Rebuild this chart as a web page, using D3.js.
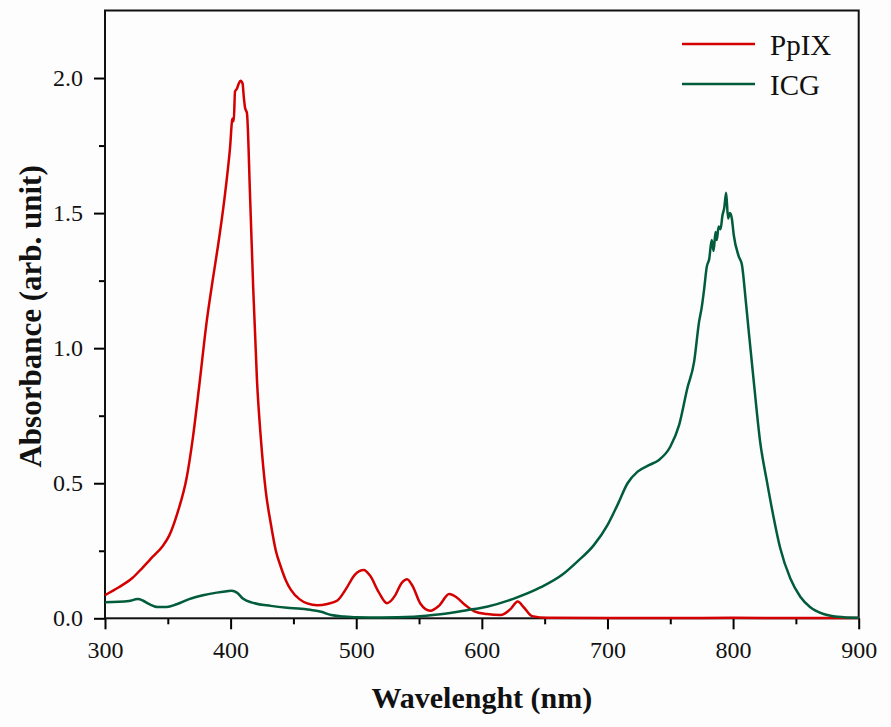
<!DOCTYPE html>
<html>
<head>
<meta charset="utf-8">
<script src="https://cdn.jsdelivr.net/npm/d3@7"></script>
<style>
  html, body { margin: 0; padding: 0; background: #fdfdfd; }
  svg { display: block; }
</style>
</head>
<body>
<script>
// PpIX absorbance
const ppixNm = [300, 311, 322, 330, 338, 346, 351, 358, 365, 370, 375, 381, 386, 390, 395, 399.5, 401.5, 402.5,
  403.5, 405, 406.5, 408, 409.5, 410.5, 411.5, 413, 415.5, 418, 421, 424, 428, 432, 436, 440, 444, 448, 455,
  461, 469, 477, 485, 492, 499, 506, 511, 518, 524.5, 531, 536, 540.5, 545, 551, 559, 566, 574, 580, 587,
  594, 604, 615, 623, 628.5, 633.5, 640, 652, 700, 750, 800, 850, 900];
const ppixAbs = [0.086, 0.115, 0.150, 0.188, 0.228, 0.268, 0.305, 0.395, 0.52, 0.67, 0.86, 1.10, 1.26, 1.38, 1.55, 1.74, 1.85, 1.84,
  1.95, 1.96, 1.98, 1.99, 1.98, 1.93, 1.89, 1.87, 1.56, 1.22, 0.88, 0.67, 0.47, 0.35, 0.25, 0.19, 0.14, 0.105, 0.07,
  0.055, 0.048, 0.053, 0.066, 0.11, 0.162, 0.179, 0.158, 0.096, 0.056, 0.085, 0.130, 0.145, 0.118, 0.055, 0.028, 0.047, 0.09, 0.077, 0.048,
  0.026, 0.016, 0.012, 0.035, 0.062, 0.04, 0.008, 0.002, 0.001, 0.001, 0.002, 0.001, 0.001];

// ICG absorbance
const icgNm = [300, 319, 326, 330, 335, 342, 349, 357, 367, 378, 389, 397, 401, 405, 410, 418, 432, 445, 456, 465,
  472, 480, 490, 500, 520, 546, 567, 588, 604, 625, 647, 665, 676, 689, 700, 708, 716, 724, 733, 741, 750,
  757, 763.5, 769, 773, 775, 777, 779, 781, 783, 784.5, 786, 787, 788.5, 790, 791.5, 793, 794.5, 796, 797.5,
  799, 800.5, 804.5, 807, 810, 812.5, 816.5, 821.5, 827, 832, 837.5, 845.5, 853.5, 861, 872, 883, 900];
const icgAbs = [0.059, 0.064, 0.071, 0.066, 0.053, 0.042, 0.042, 0.052, 0.071, 0.085, 0.095, 0.100, 0.102, 0.095, 0.072, 0.057, 0.046, 0.039, 0.035, 0.030,
  0.024, 0.012, 0.007, 0.004, 0.003, 0.006, 0.015, 0.030, 0.043, 0.072, 0.115, 0.165, 0.21, 0.27, 0.345, 0.42, 0.50, 0.543, 0.567, 0.586, 0.635,
  0.715, 0.85, 0.95, 1.10, 1.15, 1.22, 1.30, 1.33, 1.40, 1.36, 1.43, 1.40, 1.45, 1.44, 1.49, 1.52, 1.575, 1.48, 1.50,
  1.48, 1.42, 1.34, 1.31, 1.18, 1.06, 0.875, 0.655, 0.505, 0.38, 0.26, 0.148, 0.08, 0.043, 0.016, 0.006, 0.002];

const seriesNames = ["PpIX", "ICG"];
const seriesColors = ["#d40000", "#005c3a"];
const xTicks = [300, 400, 500, 600, 700, 800, 900];
const xMinor = [350, 450, 550, 650, 750, 850];
const yTicks = [0, 0.5, 1.0, 1.5, 2.0];
const yMinor = [0.25, 0.75, 1.25, 1.75];

const width = 891, height = 727;
const margin = {top: 10.5, right: 32.3, bottom: 108.7, left: 105};

const x = d3.scaleLinear().domain([300, 900]).range([margin.left, width - margin.right]);
const y = d3.scaleLinear().domain([0, 2.25]).range([height - margin.bottom, margin.top]);

const svg = d3.select("body").append("svg")
    .attr("width", width)
    .attr("height", height)
    .attr("viewBox", [0, 0, width, height]);

const font = "'Liberation Serif', 'Times New Roman', serif";

// minor ticks
svg.append("g")
    .attr("transform", `translate(0,${y(0)})`)
    .call(d3.axisBottom(x).tickValues(xMinor).tickSize(6).tickFormat(""))
    .call(g => g.select(".domain").remove())
    .call(g => g.selectAll("line").attr("stroke-width", 2));
svg.append("g")
    .attr("transform", `translate(${x(300)},0)`)
    .call(d3.axisLeft(y).tickValues(yMinor).tickSize(6).tickFormat(""))
    .call(g => g.select(".domain").remove())
    .call(g => g.selectAll("line").attr("stroke-width", 2));

// major axes
svg.append("g")
    .attr("transform", `translate(0,${y(0)})`)
    .call(d3.axisBottom(x).tickValues(xTicks).tickSize(11).tickPadding(12).tickSizeOuter(0))
    .call(g => g.select(".domain").remove())
    .call(g => g.selectAll("line").attr("stroke-width", 2))
    .call(g => g.selectAll("text").attr("font-family", font).attr("font-size", 24).attr("fill", "#111"));
svg.append("g")
    .attr("transform", `translate(${x(300)},0)`)
    .call(d3.axisLeft(y).tickValues(yTicks).tickSize(11).tickPadding(11).tickFormat(d3.format(".1f")).tickSizeOuter(0))
    .call(g => g.select(".domain").remove())
    .call(g => g.selectAll("line").attr("stroke-width", 2))
    .call(g => g.selectAll("text").attr("font-family", font).attr("font-size", 24).attr("fill", "#111"));

// frame
svg.append("rect")
    .attr("x", x(300))
    .attr("y", y(2.25))
    .attr("width", x(900) - x(300))
    .attr("height", y(0) - y(2.25))
    .attr("fill", "none")
    .attr("stroke", "#111")
    .attr("stroke-width", 2);

const line = d3.line()
    .x(d => x(d[0]))
    .y(d => y(d[1]))
    .curve(d3.curveMonotoneX);

const series = [
  d3.zip(ppixNm, ppixAbs),
  d3.zip(icgNm, icgAbs)
];

svg.append("g")
  .selectAll("path")
  .data(series)
  .join("path")
    .attr("fill", "none")
    .attr("stroke", (d, i) => seriesColors[i])
    .attr("stroke-width", 2.5)
    .attr("stroke-linejoin", "round")
    .attr("d", line);

// legend
const legend = svg.append("g")
  .selectAll("g")
  .data(seriesNames)
  .join("g")
    .attr("transform", (d, i) => `translate(682,${44 + i * 40})`);
legend.append("line")
    .attr("x1", 0)
    .attr("x2", 73)
    .attr("stroke", (d, i) => seriesColors[i])
    .attr("stroke-width", 2.5);
legend.append("text")
    .attr("x", 88)
    .attr("y", 10.5)
    .attr("font-family", font)
    .attr("font-size", 29)
    .attr("fill", "#111")
    .text(d => d);

// axis titles
svg.append("text")
    .attr("x", (x(300) + x(900)) / 2)
    .attr("y", 708)
    .attr("text-anchor", "middle")
    .attr("font-family", font)
    .attr("font-weight", "bold")
    .attr("font-size", 30)
    .attr("fill", "#111")
    .text("Wavelenght (nm)");
svg.append("text")
    .attr("transform", `translate(41,${(y(0) + y(2.25)) / 2 + 2}) rotate(-90)`)
    .attr("text-anchor", "middle")
    .attr("font-family", font)
    .attr("font-weight", "bold")
    .attr("font-size", 31)
    .attr("fill", "#111")
    .text("Absorbance (arb. unit)");
</script>
</body>
</html>
